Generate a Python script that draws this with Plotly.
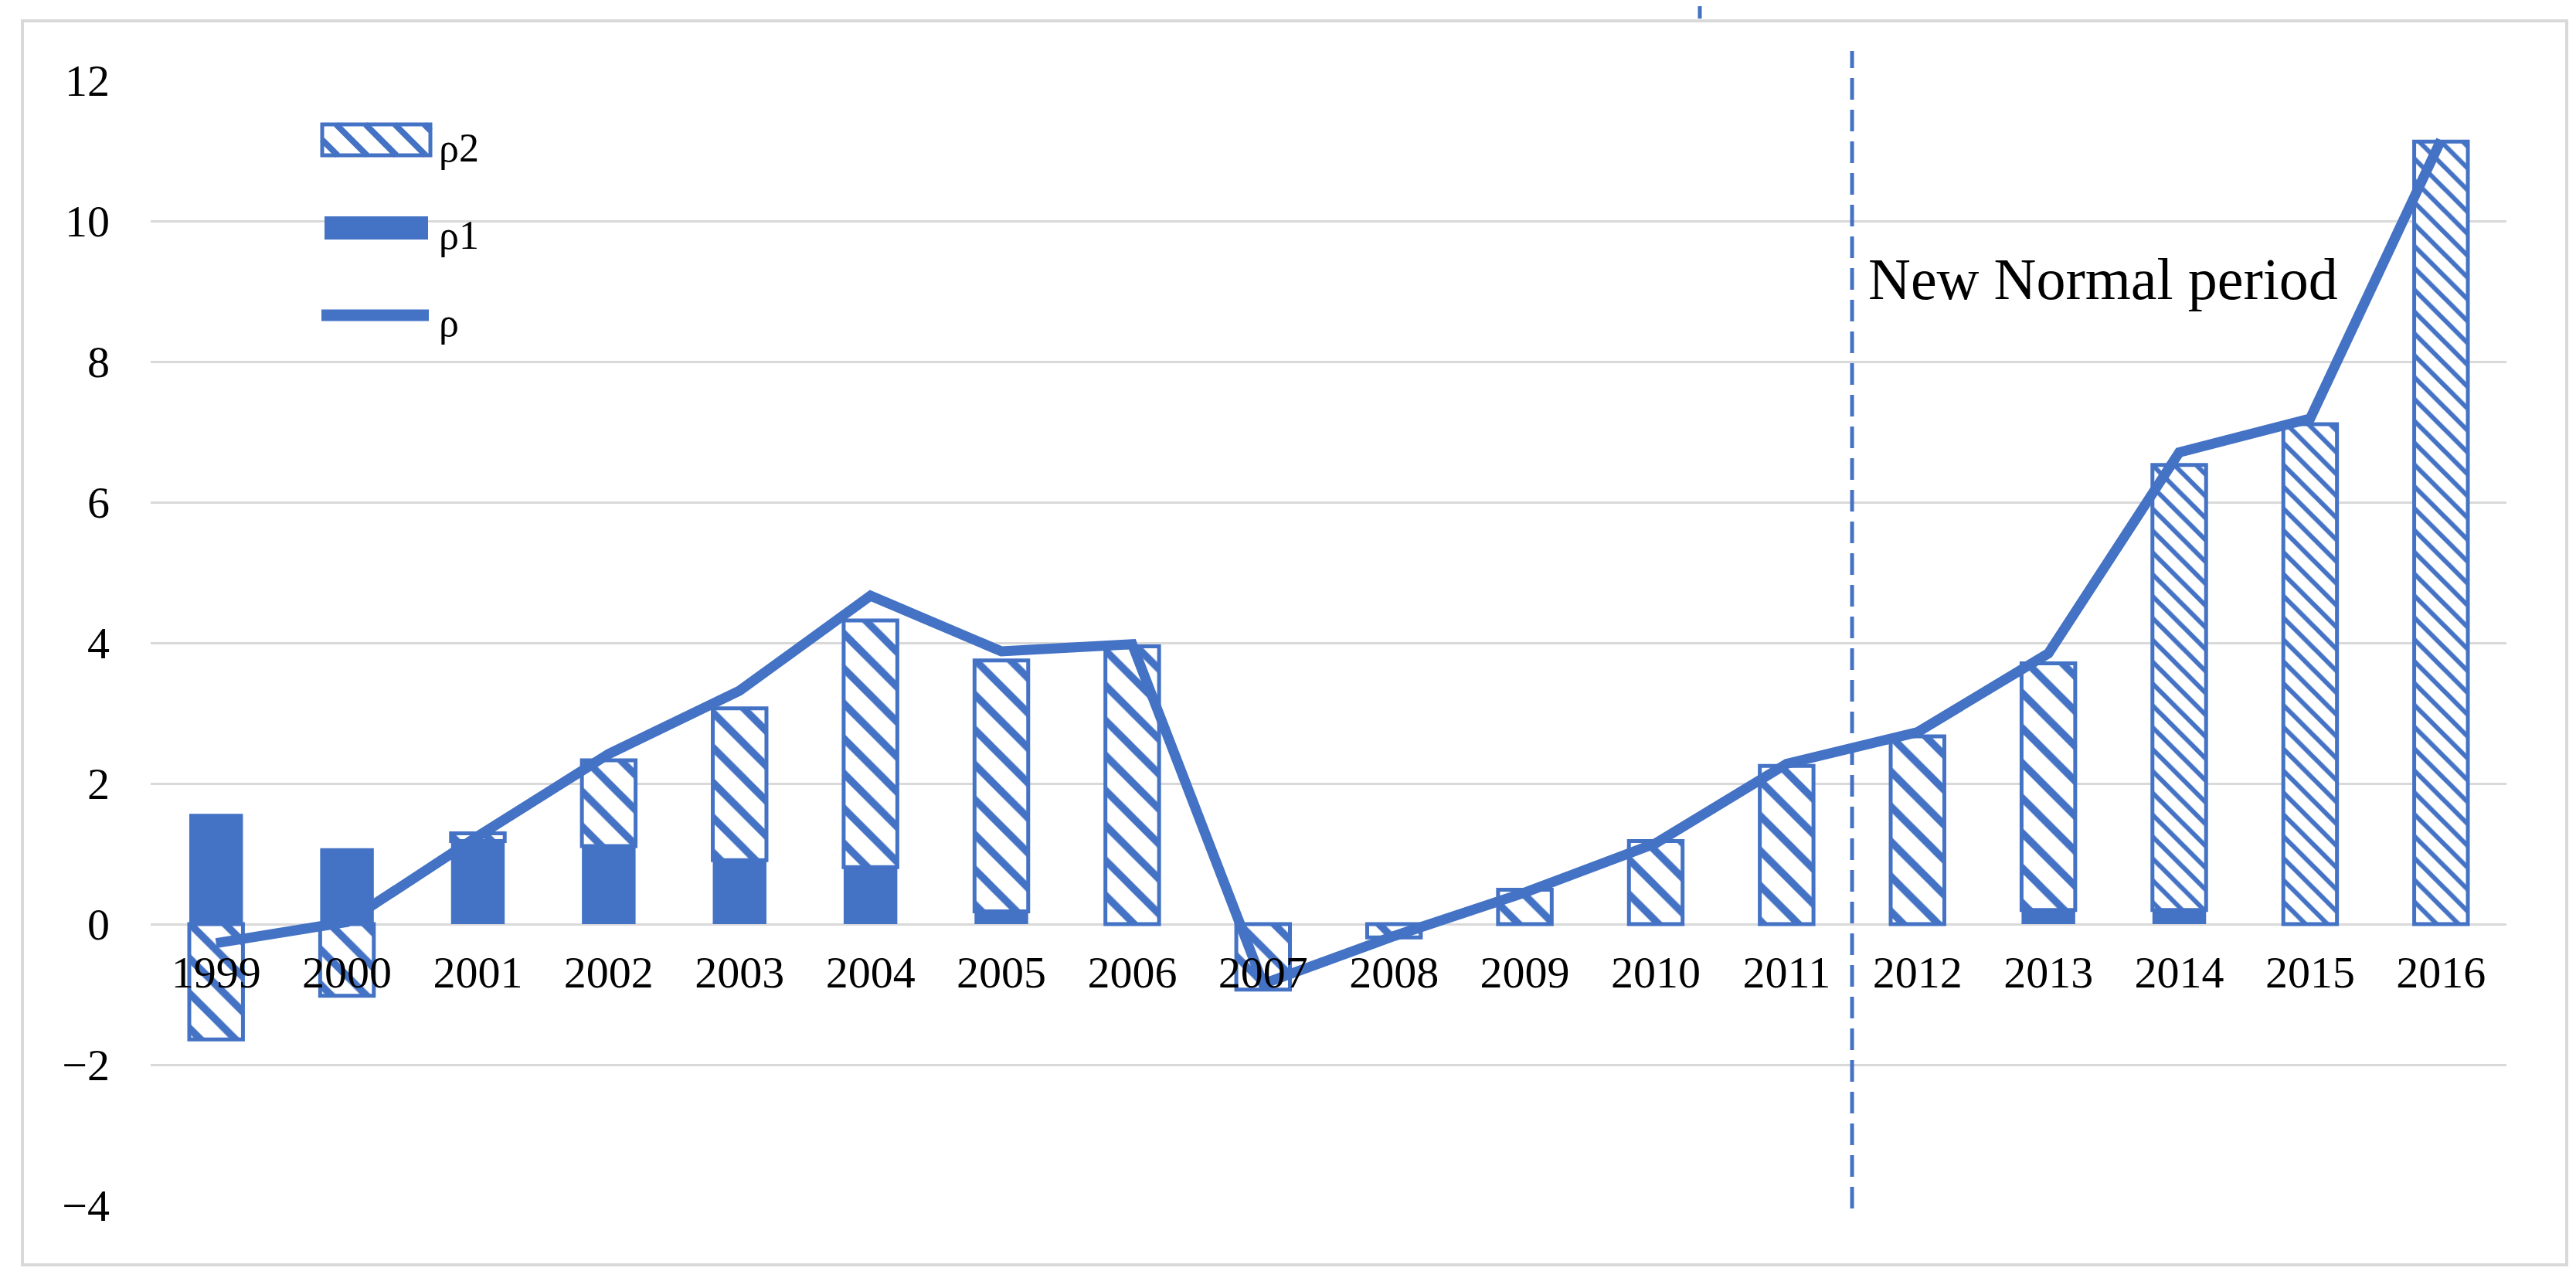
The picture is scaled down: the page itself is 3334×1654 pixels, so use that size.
import plotly.graph_objects as go

# ---------------- data ----------------
years = ["1999", "2000", "2001", "2002", "2003", "2004", "2005", "2006", "2007",
         "2008", "2009", "2010", "2011", "2012", "2013", "2014", "2015", "2016"]
rho1 = [1.57, 1.08, 1.18, 1.11, 0.91, 0.81, 0.18, 0.0, 0.0,
        0.0, 0.0, 0.0, 0.0, 0.0, 0.20, 0.20, 0.0, 0.0]
rho2 = [-1.64, -1.02, 0.11, 1.22, 2.16, 3.51, 3.57, 3.95, -0.93,
        -0.19, 0.49, 1.18, 2.25, 2.67, 3.51, 6.33, 7.11, 11.13]
rho = [-0.27, 0.03, 1.25, 2.42, 3.32, 4.67, 3.88, 3.98, -0.85,
       -0.17, 0.45, 1.15, 2.28, 2.73, 3.85, 6.71, 7.19, 11.15]
y_ticks = [-4, -2, 0, 2, 4, 6, 8, 10, 12]
annotation_text = "New Normal period"
legend_labels = ["ρ2", "ρ1", "ρ"]

# hatch spacing per bar (style only: last three bars are drawn denser in the source)
hatch_size = [32] * 15 + [20] * 3

BLUE = "#4472C4"
GRID = "#D9D9D9"
FONT = "Liberation Serif, Times New Roman, serif"

W, H = 3334, 1654
ML, MR, MT, MB = 187, 98, 96, 102
PW, PH = W - ML - MR, H - MT - MB


def px(x):
    return (x - ML) / PW


def py(y):
    return (H - MB - y) / PH


fig = go.Figure()
fig.add_trace(go.Bar(
    x=years, y=rho1, name="ρ1",
    marker=dict(color=BLUE, line=dict(width=0)),
    showlegend=False,
))
fig.add_trace(go.Bar(
    x=years, y=rho2, name="ρ2",
    marker=dict(
        color="white",
        line=dict(color=BLUE, width=5),
        pattern=dict(shape="\\", fgcolor=BLUE, bgcolor="white",
                     size=hatch_size, solidity=0.3, fillmode="replace"),
    ),
    showlegend=False,
))
fig.add_trace(go.Scatter(
    x=years, y=rho, name="ρ", mode="lines",
    line=dict(color=BLUE, width=13),
    showlegend=False,
))

shapes = []
# outer frame
shapes.append(dict(type="rect", xref="paper", yref="paper",
                   x0=px(21), x1=px(3314), y0=py(1629), y1=py(19),
                   line=dict(color=GRID, width=4), fillcolor="rgba(0,0,0,0)"))
# small artifact mark at top
shapes.append(dict(type="line", xref="paper", yref="paper",
                   x0=px(2192), x1=px(2192), y0=py(0), y1=py(16),
                   line=dict(color=BLUE, width=5)))
# dashed separator between 2011 and 2012
shapes.append(dict(type="line", xref="x", yref="paper",
                   x0=12.5, x1=12.5, y0=py(1556), y1=py(58),
                   line=dict(color=BLUE, width=5, dash="28px,13px")))

# custom legend: rho2 hatched swatch
sx0, sx1, sy0, sy1 = 409, 549, 153, 193
shapes.append(dict(type="rect", xref="paper", yref="paper",
                   x0=px(sx0), x1=px(sx1), y0=py(sy1), y1=py(sy0),
                   line=dict(color=BLUE, width=5), fillcolor="white"))
hh = sy1 - sy0
for k in range(6):
    xa = sx0 - 20 + k * 38
    xb = xa + hh
    ya, yb = sy0, sy1
    if xa < sx0:
        ya = sy0 + (sx0 - xa)
        xa = sx0
    if xb > sx1:
        yb = sy1 - (xb - sx1)
        xb = sx1
    if xa < xb:
        shapes.append(dict(type="line", xref="paper", yref="paper",
                           x0=px(xa), x1=px(xb), y0=py(ya), y1=py(yb),
                           line=dict(color=BLUE, width=8)))
# rho1 solid swatch
shapes.append(dict(type="rect", xref="paper", yref="paper",
                   x0=px(412), x1=px(546), y0=py(302), y1=py(272),
                   line=dict(width=0), fillcolor=BLUE))
# rho line swatch
shapes.append(dict(type="line", xref="paper", yref="paper",
                   x0=px(408), x1=px(547), y0=py(400), y1=py(400),
                   line=dict(color=BLUE, width=15)))

annotations = []
for lbl, yy in zip(legend_labels, [183, 297, 409]):
    annotations.append(dict(text=lbl, xref="paper", yref="paper",
                            x=px(558), y=py(yy), xanchor="left", yanchor="middle",
                            showarrow=False,
                            font=dict(family=FONT, size=52, color="black")))
annotations.append(dict(text=annotation_text, xref="paper", yref="y",
                        x=px(2408), y=9.18, xanchor="left", yanchor="middle",
                        showarrow=False,
                        font=dict(family=FONT, size=76, color="black")))

fig.update_layout(
    width=W, height=H,
    margin=dict(l=ML, r=MR, t=MT, b=MB, pad=0),
    paper_bgcolor="white", plot_bgcolor="white",
    barmode="relative", bargap=0.59,
    showlegend=False,
    shapes=shapes, annotations=annotations,
    font=dict(family=FONT, color="black"),
)
fig.update_xaxes(
    type="category", range=[-0.5, 17.5],
    anchor="free", position=0.25,
    showgrid=False, showline=False, zeroline=False, ticks="",
    tickfont=dict(family=FONT, size=58, color="black"),
    ticklabelstandoff=23,
)
fig.update_yaxes(
    range=[-4, 12], tickvals=y_ticks,
    ticktext=[("\u2212" + str(-v)) if v < 0 else str(v) for v in y_ticks],
    showgrid=True, gridcolor=GRID, gridwidth=3,
    zeroline=False, showline=False, ticks="",
    tickfont=dict(family=FONT, size=58, color="black"),
    ticklabelstandoff=52,
)

fig.write_html("out.html")
